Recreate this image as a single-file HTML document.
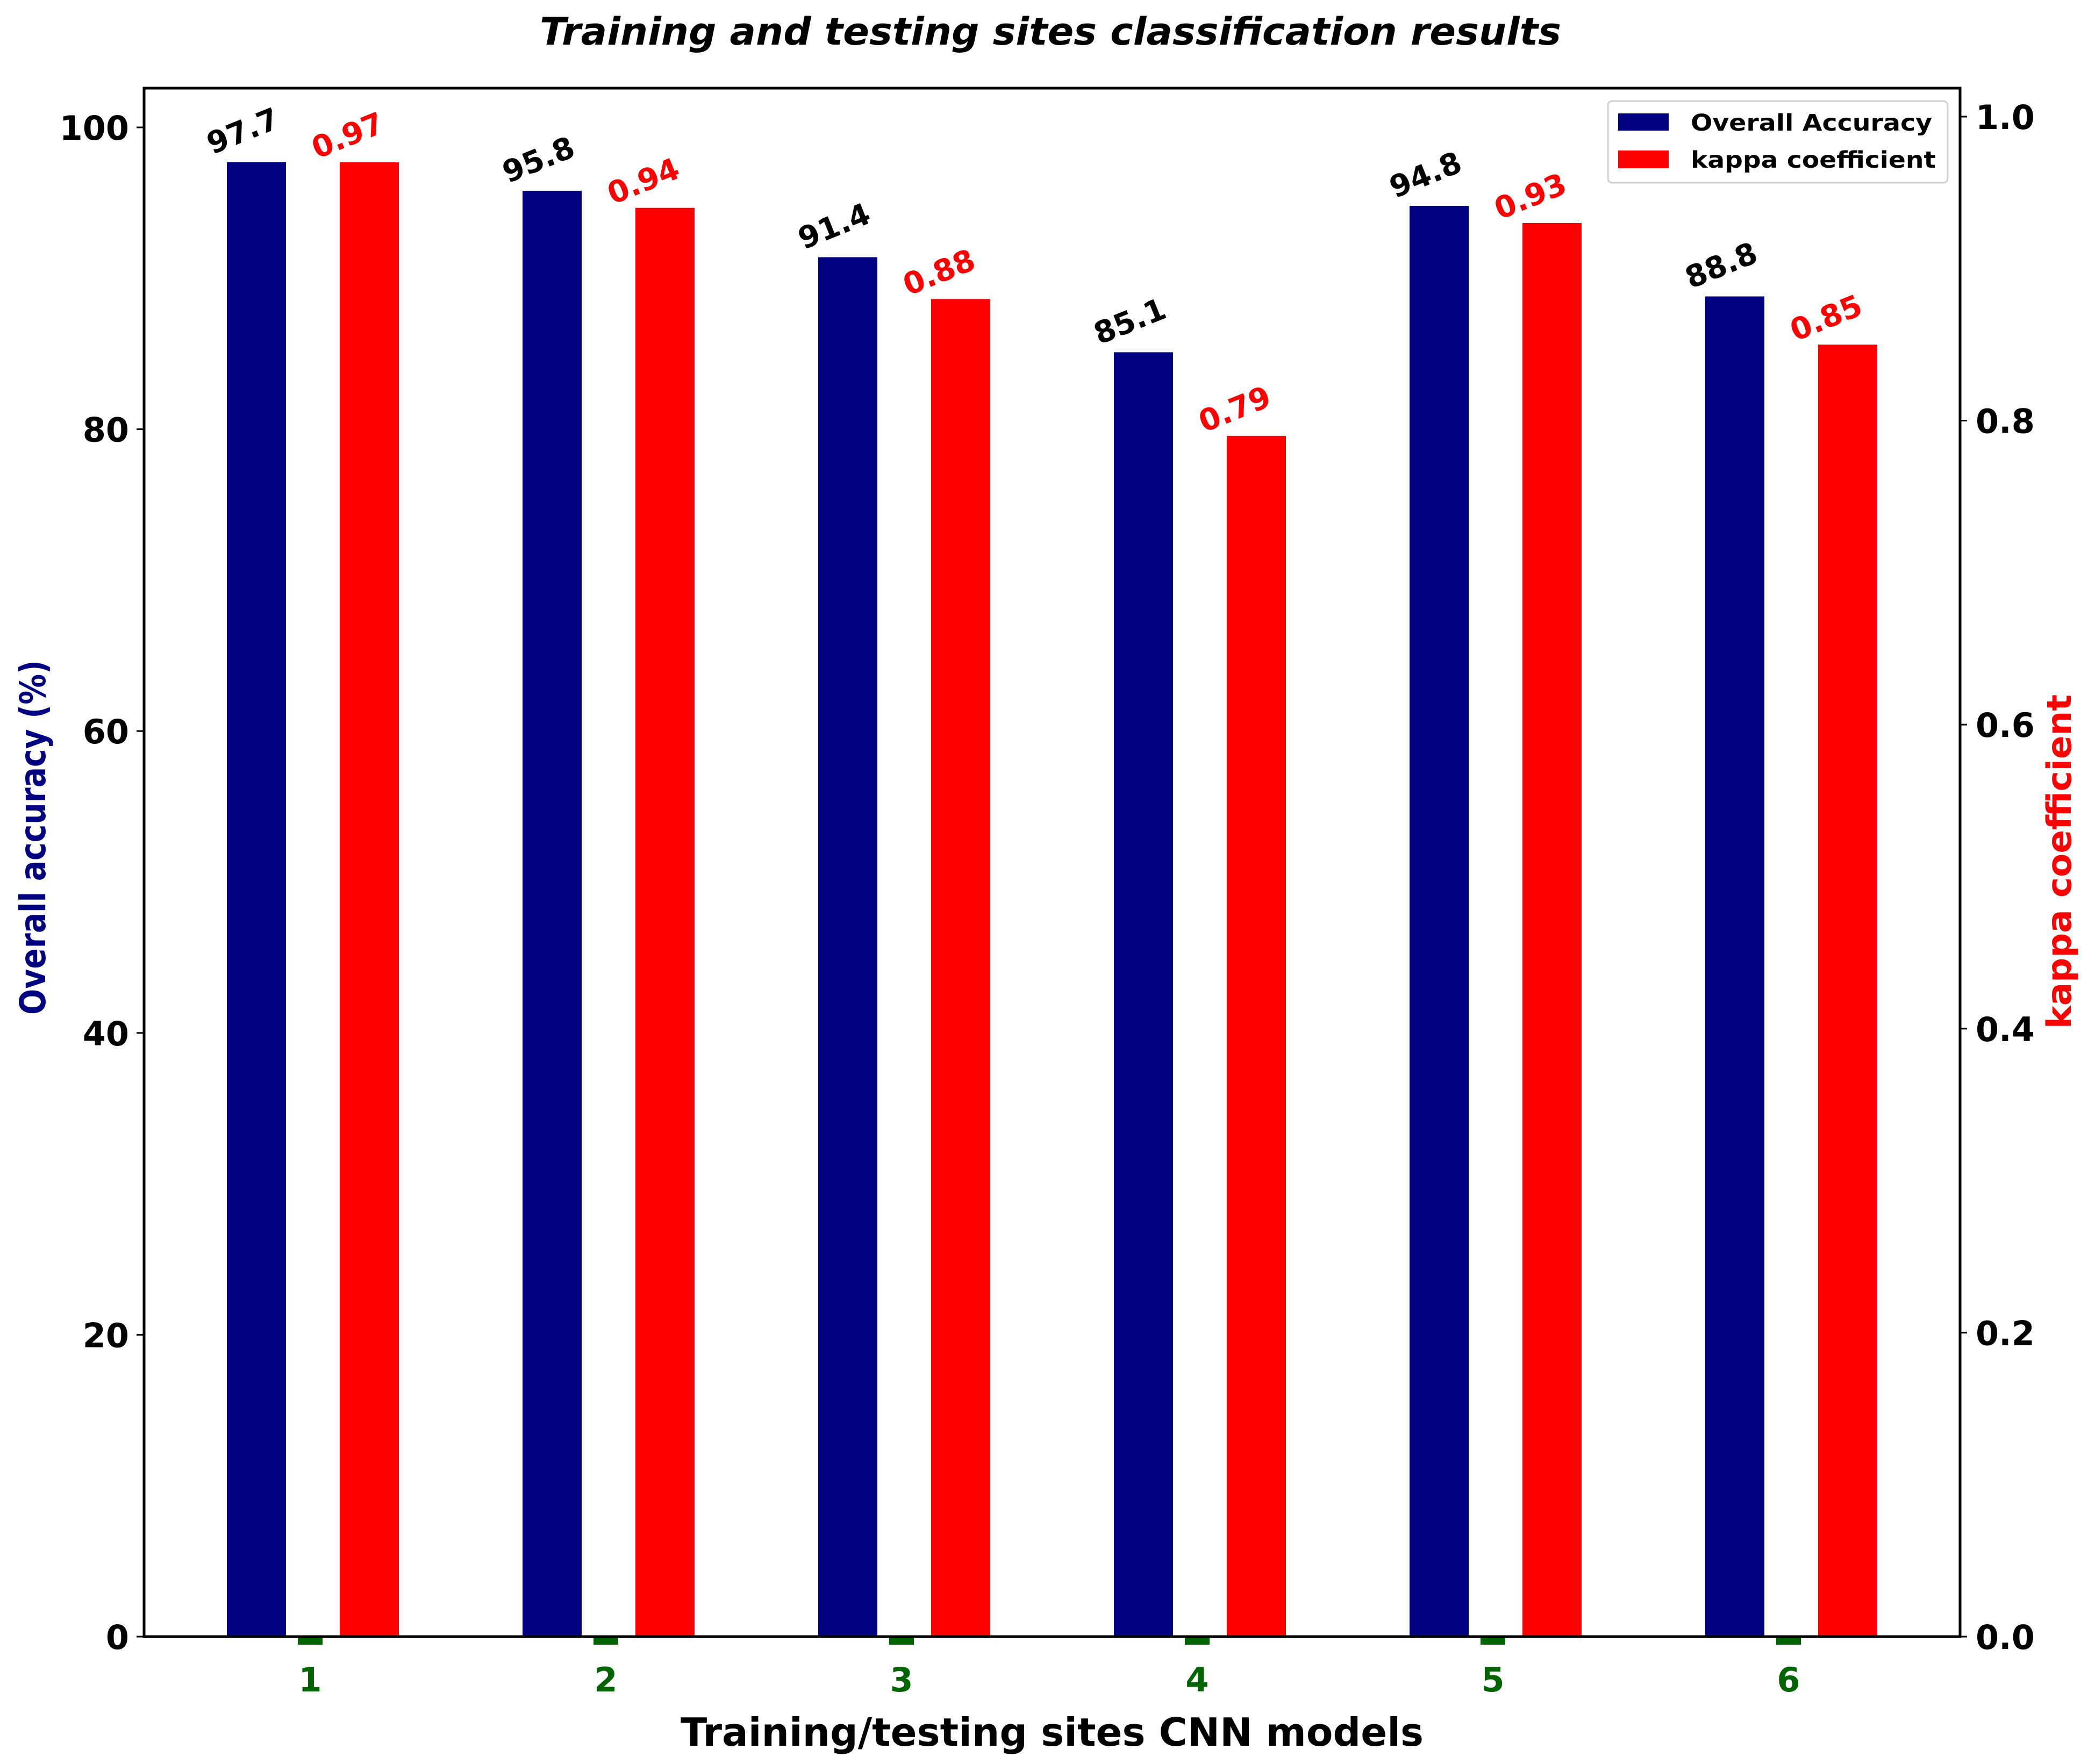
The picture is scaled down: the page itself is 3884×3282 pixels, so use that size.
<!DOCTYPE html>
<html><head><meta charset="utf-8"><style>
html,body{margin:0;padding:0;background:#fff;}
svg{display:block;font-family:"DejaVu Sans","Liberation Sans",sans-serif;font-weight:bold;}
</style></head><body>
<svg id="chart" width="3884" height="3282" viewBox="0 0 3884 3282" xmlns="http://www.w3.org/2000/svg">
<rect x="0" y="0" width="3884" height="3282" fill="#fff"/>
<text x="1954" y="83" text-anchor="middle" font-size="70" font-style="italic" textLength="1900" lengthAdjust="spacingAndGlyphs">Training and testing sites classification results</text>
<g id="plot"></g>
<text x="1957" y="3248" text-anchor="middle" font-size="72" textLength="1382" lengthAdjust="spacingAndGlyphs">Training/testing sites CNN models</text>
<text transform="translate(84,1558) rotate(-90)" text-anchor="middle" font-size="66" fill="#000080" textLength="660" lengthAdjust="spacingAndGlyphs">Overall accuracy (%)</text>
<text transform="translate(3852,1603) rotate(-90)" text-anchor="middle" font-size="62" fill="#ff0000" textLength="622" lengthAdjust="spacingAndGlyphs">kappa coefficient</text>
<g>
<rect x="2991" y="188" width="632" height="152" rx="8" fill="#fff" fill-opacity="0.8" stroke="#d0d0d0" stroke-width="3"/>
<rect x="3010" y="211" width="94" height="32" fill="#000080"/>
<text x="3145" y="243" font-size="43" textLength="449" lengthAdjust="spacingAndGlyphs">Overall Accuracy</text>
<rect x="3010" y="280" width="94" height="33" fill="#ff0000"/>
<text x="3145" y="312" font-size="43" textLength="456" lengthAdjust="spacingAndGlyphs">kappa coefficient</text>
</g>
</svg>
<script>
const categories = ["1","2","3","4","5","6"];
const accuracy = [97.7, 95.8, 91.4, 85.1, 94.8, 88.8];
const kappa = [0.97, 0.94, 0.88, 0.79, 0.93, 0.85];
const accLabels = ["97.7","95.8","91.4","85.1","94.8","88.8"];
const kappaLabels = ["0.97","0.94","0.88","0.79","0.93","0.85"];
const leftTicks = [0, 20, 40, 60, 80, 100];
const rightTicks = [0.0, 0.2, 0.4, 0.6, 0.8, 1.0];
const rightTickLabels = ["0.0","0.2","0.4","0.6","0.8","1.0"];

const NS = "http://www.w3.org/2000/svg";
const L = 268, R = 3646, T = 164, B = 3045;
const yL = v => B - v * 28.08;
const yR = v => B - v * 2828;
const xC = i => 577 + i * 550;
const g = document.getElementById('plot');
function mk(tag, attrs, txt) {
  const e = document.createElementNS(NS, tag);
  for (const k in attrs) e.setAttribute(k, attrs[k]);
  if (txt !== undefined) e.textContent = txt;
  g.appendChild(e);
  return e;
}
categories.forEach((c, i) => {
  const cx = xC(i);
  const ya = yL(accuracy[i]);
  let b = mk('rect', {x: cx - 155, y: ya, width: 110, height: B - ya, fill: '#000080'});
  
  
  const yk = yR(kappa[i]);
  b = mk('rect', {x: cx + 55, y: yk, width: 110, height: B - yk, fill: '#ff0000'});
  
  
  let t = mk('text', {transform: `translate(${cx - 100 - 25},${ya - 57}) rotate(-22)`, 'text-anchor': 'middle', 'dominant-baseline': 'central', 'font-size': 56, fill: '#000'}, accLabels[i]);
  
  
  t = mk('text', {transform: `translate(${cx + 110 - 40},${yk - 49}) rotate(-22)`, 'text-anchor': 'middle', 'dominant-baseline': 'central', 'font-size': 56, fill: '#ff0000'}, kappaLabels[i]);
  
  
  const tk = mk('rect', {x: cx - 23, y: 3047, width: 46, height: 13, fill: '#006400'});
  
  
  const tl = mk('text', {x: cx, y: 3147, 'text-anchor': 'middle', 'font-size': 62, fill: '#006400'}, c);
  
  
});
leftTicks.forEach(v => {
  const y = yL(v);
  const l = mk('line', {x1: 254, x2: L, y1: y, y2: y, stroke: '#000', 'stroke-width': 3});
  
  
  const t = mk('text', {x: 240, y: y + 23, 'text-anchor': 'end', 'font-size': 62}, String(v));
  
  
});
rightTicks.forEach((v, i) => {
  const y = yR(v);
  const l = mk('line', {x1: R, x2: R + 13, y1: y, y2: y, stroke: '#000', 'stroke-width': 3});
  
  
  const t = mk('text', {x: 3675, y: y + 23, 'text-anchor': 'start', 'font-size': 62}, rightTickLabels[i]);
  
  
});
const frame = mk('rect', {x: L, y: T, width: R - L, height: B - T, fill: 'none', stroke: '#000', 'stroke-width': 5});


</script>
</body></html>
